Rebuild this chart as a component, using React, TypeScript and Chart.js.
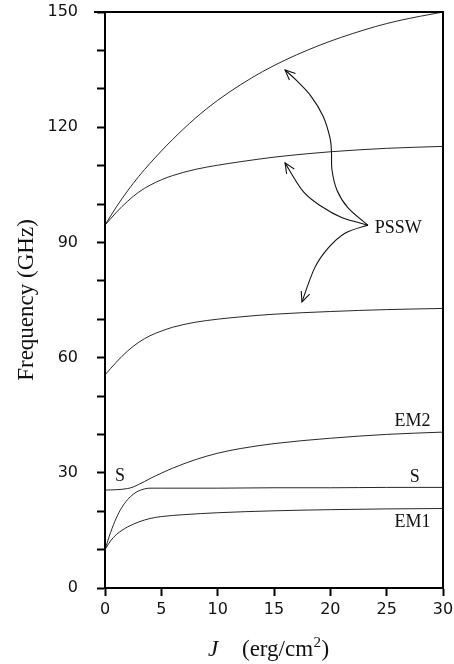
import React, { useEffect, useRef } from 'react';
import { Chart, registerables } from 'chart.js';

Chart.register(...registerables);

// ---- data (J in erg/cm^2, frequency in GHz) ----
const jPsswTop = [0, 1, 2, 3, 4, 5, 6, 8, 10, 12, 14, 16, 18, 20, 22, 24, 26, 28, 30];
const fPsswTop = [94.5, 99.2, 103.4, 107.2, 110.6, 113.8, 116.8, 122.3, 127, 131, 134.5, 137.5, 140.1, 142.4, 144.4, 146.2, 147.7, 148.9, 150];

const jPsswMid = [0, 1, 2, 3, 4, 5, 6, 8, 10, 12, 15, 18, 20, 25, 30];
const fPsswMid = [94.5, 97.8, 100.7, 103.1, 104.9, 106.3, 107.4, 109, 110.1, 111, 112.2, 113.1, 113.6, 114.5, 115];

const jPsswLow = [0, 1, 2, 3, 4, 5, 6, 8, 10, 12, 15, 20, 25, 30];
const fPsswLow = [55.5, 58.8, 61.7, 64, 65.7, 66.9, 67.9, 69.2, 70, 70.6, 71.3, 72, 72.5, 72.8];

const jEm2 = [0, 1, 2, 2.5, 3, 3.5, 4, 5, 6, 8, 10, 12, 15, 20, 25, 30];
const fEm2 = [25.5, 25.6, 25.9, 26.3, 27, 27.7, 28.5, 29.9, 31.2, 33.4, 35.1, 36.3, 37.6, 39, 40, 40.6];

const jS = [0, 0.5, 1, 1.5, 2, 2.5, 3, 3.5, 4, 5, 10, 15, 20, 25, 30];
const fS = [10, 14.5, 18.2, 21, 23, 24.4, 25.3, 25.8, 26, 26, 26, 26.1, 26.1, 26.2, 26.2];

const jEm1 = [0, 0.5, 1, 1.5, 2, 3, 4, 5, 7, 10, 15, 20, 25, 30];
const fEm1 = [10, 12.3, 13.9, 15, 15.9, 17.2, 18.1, 18.6, 19.1, 19.6, 20.1, 20.4, 20.6, 20.7];

const yLabelStep = 30;

// annotation texts (data coordinates)
const curveLabels = [
  { text: 'PSSW', x: 23.95, y: 93.8, align: 'left' },
  { text: 'EM2', x: 27.3, y: 43.5, align: 'center' },
  { text: 'S', x: 27.5, y: 28.8, align: 'center' },
  { text: 'EM1', x: 27.3, y: 17.0, align: 'center' },
  { text: 'S', x: 1.33, y: 29.2, align: 'center' },
];

// PSSW arrows (data coordinates, from label origin to arrow tip)
const arrowTop = [[23.34, 94.5], [21.57, 99.0], [20.59, 103.6], [20.15, 108.8], [20.1, 113.5], [19.97, 117.2], [19.35, 122.9], [18.28, 128.1], [16.95, 132.3], [15.98, 134.9]];
const arrowMid = [[23.34, 94.5], [21.0, 96.5], [19.3, 99.2], [17.6, 103.2], [15.98, 110.7]];
const arrowLow = [[23.34, 94.5], [21.3, 92.4], [19.8, 88.5], [18.6, 83.3], [17.48, 74.5]];

const toPts = (js: number[], fs: number[]) => js.map((j, i) => ({ x: j, y: fs[i] }));

const SERIF = '"Liberation Serif", "Times New Roman", serif';
const SANS = '"DejaVu Sans", sans-serif';

const overlayPlugin = {
  id: 'overlay',
  afterDatasetsDraw(chart: any) {
    const { ctx, chartArea } = chart;
    const xs = chart.scales.x;
    const ys = chart.scales.y;
    const P = (p: number[]) => [xs.getPixelForValue(p[0]), ys.getPixelForValue(p[1])];
    ctx.save();
    // top & right frame
    ctx.strokeStyle = '#000';
    ctx.lineWidth = 2;
    ctx.beginPath();
    ctx.moveTo(chartArea.left - 11, chartArea.top);
    ctx.lineTo(chartArea.right, chartArea.top);
    ctx.lineTo(chartArea.right, chartArea.bottom);
    ctx.stroke();

    // arrows
    ctx.lineWidth = 1.1;
    ctx.strokeStyle = '#111';
    const drawArrow = (arr: number[][]) => {
      const pts = arr.map(P);
      ctx.beginPath();
      ctx.moveTo(pts[0][0], pts[0][1]);
      let lastC2 = pts[0];
      for (let i = 0; i < pts.length - 1; i++) {
        const p0 = pts[i - 1] || pts[i];
        const p1 = pts[i];
        const p2 = pts[i + 1];
        const p3 = pts[i + 2] || p2;
        const c1 = [p1[0] + (p2[0] - p0[0]) / 6, p1[1] + (p2[1] - p0[1]) / 6];
        const c2 = [p2[0] - (p3[0] - p1[0]) / 6, p2[1] - (p3[1] - p1[1]) / 6];
        ctx.bezierCurveTo(c1[0], c1[1], c2[0], c2[1], p2[0], p2[1]);
        lastC2 = c2;
      }
      ctx.stroke();
      const tip = pts[pts.length - 1];
      const ang = Math.atan2(tip[1] - lastC2[1], tip[0] - lastC2[0]);
      const len = 11;
      const spread = 0.42;
      ctx.beginPath();
      ctx.moveTo(tip[0] - len * Math.cos(ang - spread), tip[1] - len * Math.sin(ang - spread));
      ctx.lineTo(tip[0], tip[1]);
      ctx.lineTo(tip[0] - len * Math.cos(ang + spread), tip[1] - len * Math.sin(ang + spread));
      ctx.stroke();
    };
    drawArrow(arrowTop);
    drawArrow(arrowMid);
    drawArrow(arrowLow);

    // curve labels
    ctx.fillStyle = '#111';
    ctx.font = `18px ${SERIF}`;
    ctx.textBaseline = 'middle';
    curveLabels.forEach((l) => {
      const [px, py] = P([l.x, l.y]);
      ctx.textAlign = l.align as CanvasTextAlign;
      ctx.fillText(l.text, px, py);
    });

    // x-axis title: italic J and unit with superscript
    const cx = (chartArea.left + chartArea.right) / 2;
    const base = 656;
    ctx.textAlign = 'left';
    ctx.textBaseline = 'alphabetic';
    ctx.font = `italic 23px ${SERIF}`;
    ctx.fillText('J', cx - 66, base);
    ctx.font = `23px ${SERIF}`;
    let x = cx - 32;
    const t1 = '(erg/cm';
    ctx.fillText(t1, x, base);
    x += ctx.measureText(t1).width;
    ctx.font = `15px ${SERIF}`;
    ctx.fillText('2', x + 0.5, base - 9);
    x += ctx.measureText('2').width + 1;
    ctx.font = `23px ${SERIF}`;
    ctx.fillText(')', x, base);
    ctx.restore();
  },
};

export default function App() {
  const ref = useRef<HTMLCanvasElement | null>(null);
  useEffect(() => {
    document.body.style.margin = '0';
    const lineStyle = {
      borderColor: 'rgba(0,0,0,0.85)',
      borderWidth: 1,
      pointRadius: 0,
      fill: false,
      cubicInterpolationMode: 'monotone' as const,
    };
    const chart = new Chart(ref.current as HTMLCanvasElement, {
      type: 'line',
      data: {
        datasets: [
          { label: 'PSSW 1', data: toPts(jPsswTop, fPsswTop), ...lineStyle },
          { label: 'PSSW 2', data: toPts(jPsswMid, fPsswMid), ...lineStyle },
          { label: 'PSSW 3', data: toPts(jPsswLow, fPsswLow), ...lineStyle },
          { label: 'EM2', data: toPts(jEm2, fEm2), ...lineStyle },
          { label: 'S', data: toPts(jS, fS), ...lineStyle },
          { label: 'EM1', data: toPts(jEm1, fEm1), ...lineStyle },
        ],
      },
      options: {
        animation: false,
        responsive: false,
        maintainAspectRatio: false,
        layout: { padding: { left: 0, top: 12, right: 11, bottom: 0 } },
        plugins: { legend: { display: false }, tooltip: { enabled: false } },
        scales: {
          x: {
            type: 'linear',
            min: 0,
            max: 30,
            ticks: { stepSize: 5, font: { family: SANS, size: 16 }, color: '#111', padding: 4, maxRotation: 0 },
            grid: { drawOnChartArea: false, tickLength: 8, tickColor: '#000', tickWidth: 2, color: '#000' },
            border: { display: true, color: '#000', width: 2 },
            afterFit: (s: any) => { s.height = 76; s.paddingLeft = 0; s.paddingRight = 0; },
          },
          y: {
            type: 'linear',
            min: 0,
            max: 150,
            ticks: {
              stepSize: 10,
              font: { family: SANS, size: 16 },
              color: '#111',
              padding: 19,
              callback: (v: any) => (Number(v) % yLabelStep === 0 ? String(v) : ''),
            },
            grid: { drawOnChartArea: false, tickLength: 8, tickColor: '#000', tickWidth: 2, color: '#000' },
            border: { display: true, color: '#000', width: 2 },
            title: {
              display: true,
              text: 'Frequency (GHz)',
              font: { family: SERIF, size: 23 },
              color: '#111',
              padding: { top: 13, bottom: 0 },
            },
            afterFit: (s: any) => { s.width = 105; s.paddingTop = 0; s.paddingBottom = 0; },
          },
        },
      },
      plugins: [overlayPlugin],
    });
    return () => chart.destroy();
  }, []);
  return (
    <div style={{ width: 454, height: 664 }}>
      <canvas ref={ref} width={454} height={664} style={{ display: 'block' }} />
    </div>
  );
}
